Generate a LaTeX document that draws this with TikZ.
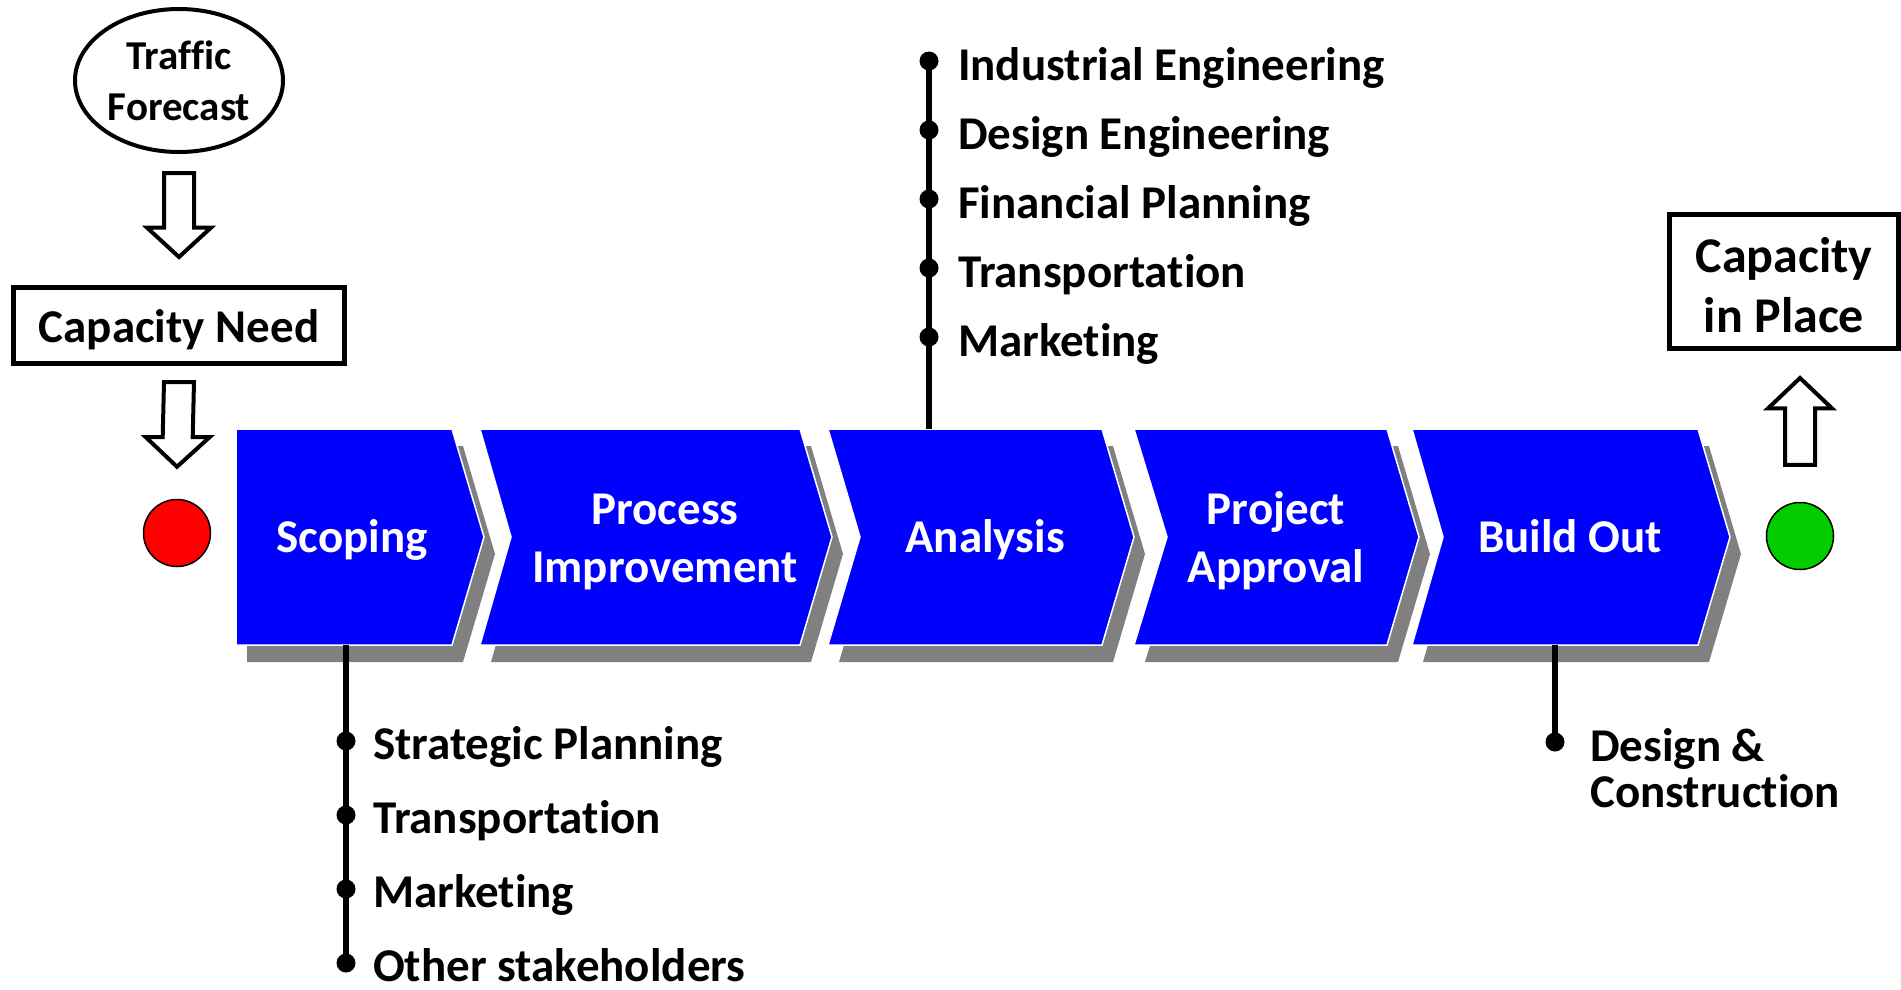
\documentclass[tikz,border=0pt]{standalone}
\usepackage{fontspec}
\setmainfont{Carlito}[Ligatures=NoCommon]
\usetikzlibrary{calc,shapes.geometric}
\definecolor{stageblue}{RGB}{0,0,255}
\definecolor{shadowgray}{RGB}{128,128,128}
\definecolor{stopred}{RGB}{255,0,0}
\definecolor{gogreen}{RGB}{0,204,0}
\def\hollowarrow(#1)(#2){\draw[hollow] ($(#1)+(-15,0)$) -- ($(#1)!0.65!(#2)+(-15,0)$) -- ($(#1)!0.65!(#2)+(-32,0)$) -- (#2) -- ($(#1)!0.65!(#2)+(32,0)$) -- ($(#1)!0.65!(#2)+(15,0)$) -- ($(#1)+(15,0)$) -- cycle;}
\tikzset{
	stage/.style={font=\fontsize{47}{58}\selectfont\bfseries, text=white, align=center, anchor=base, inner sep=0},
	stageshape/.style={fill=stageblue, draw=white, line width=1.5},
	listitem/.style={font=\fontsize{47}{46}\selectfont\bfseries, anchor=base west, inner sep=0},
	capbox/.style={draw, line width=5, font=\fontsize{47}{60}\selectfont\bfseries, align=center, inner sep=0},
	lamp/.style={circle, draw, line width=1.5, minimum size=67, inner sep=0},
	hollow/.style={draw, line width=4, fill=white, line join=miter},
	stemline/.style={line width=6},
}

\begin{document}
\begin{tikzpicture}[x=1pt,y=-1pt]
	%%%%% START %%%%%
	\def\ytop{429}
	\def\ybot{645}
	\def\ymid{537}
	\def\tip{32}
	\def\sx{11}
	\def\sy{17}
	\def\rdot{9.5pt}

	\useasboundingbox (0,0) rectangle (1901,989);

	% chevrons with drop shadow
	\foreach \l/\r/\n/\nm in {236/452/0/scope, 480/800/31/proc, 828/1102/32/anal, 1134/1387/33/appr, 1412/1698/31/build}{
		\fill[shadowgray] (\l+\sx,\ytop+\sy) -- (\r+\sx,\ytop+\sy) -- (\r+\tip+\sx,\ymid+\sy) -- (\r+\sx,\ybot+\sy) -- (\l+\sx,\ybot+\sy) -- (\l+\n+\sx,\ymid+\sy) -- cycle;
		\draw[stageshape] (\l,\ytop) -- (\r,\ytop) -- (\r+\tip,\ymid) -- (\r,\ybot) -- (\l,\ybot) -- (\l+\n,\ymid) -- cycle;
		\coordinate (\nm-top) at ({(\l+\r)/2},\ytop);
		\coordinate (\nm-bot) at ({(\l+\r)/2},\ybot);
	}

	\node[stage] (scoping) at (352,552) {Scoping};
	\node[stage] (procimp) at (665,582) {Process\\Improvement};
	\node[stage] (analysis) at (985,552) {Analysis};
	\node[stage] (approval) at (1276,582) {Project\\Approval};
	\node[stage] (buildout) at (1570,552) {Build Out};

	\node[lamp, fill=stopred] (start) at (177,533) {};
	\node[lamp, fill=gogreen] (finish) at (1800,536) {};

	\node[ellipse, draw, line width=4, inner sep=0, minimum width=208, minimum height=143, font=\fontsize{41}{51}\selectfont\bfseries, align=center] (traffic) at (179,80.5) {Traffic\\Forecast};
	\node[capbox, minimum width=331, minimum height=76, text height=33, text depth=0] (need) at (179,325.5) {Capacity Need};
	\node[capbox, minimum width=229, minimum height=134, text height=101, text depth=0, font=\fontsize{50}{60}\selectfont\bfseries] (inplace) at (1784,281.5) {Capacity\\in Place};

	% block arrows
	\coordinate (a1t) at ($(traffic.south)+(0,19)$);
	\coordinate (a1h) at ($(need.north)+(0,-28)$);
	\coordinate (a2t) at ($(need.south)+(0,16)$);
	\coordinate (a2h) at ($(start.north)+(0,-32)$);
	\coordinate (a3t) at ($(finish.north)+(0,-37)$);
	\coordinate (a3h) at ($(a3t |- inplace.south)+(0,27)$);
	\hollowarrow(a1t)(a1h)
	\hollowarrow(a2t)(a2h)
	\hollowarrow(a3t)(a3h)

	% who takes part
	\foreach \txt [count=\i] in {Industrial Engineering, Design Engineering, Financial Planning, Transportation, Marketing}{
		\coordinate (adot\i) at (929,{61+69*(\i-1)});
		\fill (adot\i) circle (\rdot);
		\node[listitem] (aitem\i) at ($(adot\i)+(29,19)$) {\txt};
	}
	\draw[stemline] (anal-top -| adot1) -- (adot1);

	\foreach \txt [count=\i] in {Strategic Planning, Transportation, Marketing, Other stakeholders}{
		\coordinate (sdot\i) at (346,{741+74*(\i-1)});
		\fill (sdot\i) circle (\rdot);
		\node[listitem] (sitem\i) at ($(sdot\i)+(27,18)$) {\txt};
	}
	\draw[stemline] (scope-bot -| sdot1) -- (sdot4);

	\coordinate (bdot) at (1555,742);
	\fill (bdot) circle (\rdot);
	\node[listitem, align=left] (design) at ($(bdot)+(35,65)$) {Design \&\\Construction};
	\draw[stemline] (build-bot -| bdot) -- (bdot);
	%%%%% END %%%%%
\end{tikzpicture}
\end{document}
